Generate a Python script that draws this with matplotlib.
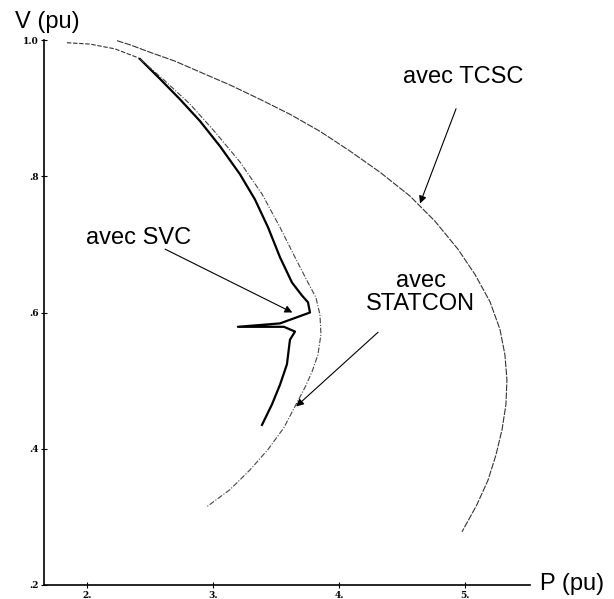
import matplotlib
matplotlib.use("Agg")
import matplotlib.pyplot as plt

# Shared base section (before the curves diverge)
base_p = [1.841, 2.024, 2.222, 2.405, 2.421]
base_v = [0.996, 0.994, 0.987, 0.974, 0.972]

# avec SVC
svc_p = [2.421, 2.579, 2.738, 2.897, 3.056, 3.214, 3.333, 3.437, 3.532, 3.627, 3.706, 3.754, 3.770,
         3.532, 3.198, 3.563, 3.651, 3.611, 3.587, 3.532, 3.468, 3.389]
svc_v = [0.972, 0.943, 0.913, 0.881, 0.844, 0.803, 0.766, 0.725, 0.681, 0.644, 0.625, 0.615, 0.600,
         0.584, 0.579, 0.579, 0.572, 0.560, 0.524, 0.494, 0.465, 0.435]

# avec STATCON
stat_p = [2.421, 2.619, 2.817, 3.016, 3.214, 3.389, 3.532, 3.651, 3.754, 3.817, 3.849, 3.857, 3.833,
          3.786, 3.730, 3.659, 3.563, 3.437, 3.294, 3.135, 2.952]
stat_v = [0.972, 0.940, 0.906, 0.865, 0.821, 0.774, 0.725, 0.681, 0.644, 0.622, 0.597, 0.568, 0.538,
          0.513, 0.490, 0.465, 0.431, 0.399, 0.369, 0.340, 0.315]

# avec TCSC
tcsc_p = [2.238, 2.341, 2.500, 2.698, 2.897, 3.135, 3.373, 3.611, 3.849, 4.087, 4.325, 4.563, 4.762,
          4.944, 5.079, 5.198, 5.278, 5.317, 5.333, 5.325, 5.294, 5.246, 5.183, 5.095, 4.976]
tcsc_v = [0.999, 0.993, 0.982, 0.969, 0.953, 0.934, 0.913, 0.891, 0.866, 0.837, 0.806, 0.771, 0.734,
          0.693, 0.656, 0.616, 0.575, 0.538, 0.501, 0.465, 0.428, 0.391, 0.354, 0.318, 0.278]

xticks = [2, 3, 4, 5]
xticklabels = ["2.", "3.", "4.", "5."]
yticks = [0.2, 0.4, 0.6, 0.8, 1.0]
yticklabels = [".2", ".4", ".6", ".8", "1.0"]

fig = plt.figure(figsize=(6.14, 5.99), dpi=100)
ax = fig.add_axes([44/614, 1-585/599, (530-44)/614, (585-40)/599])
ax.set_xlim(1.659, 5.516)
ax.set_ylim(0.2, 1.0)

ax.plot(base_p, base_v, color="#333333", lw=0.8, ls=(0, (4, 1.5)))
ax.plot(svc_p, svc_v, color="black", lw=1.6, solid_joinstyle="round")
ax.plot(stat_p, stat_v, color="#444444", lw=0.8, ls=(0, (5, 1.5, 1, 1.5)))
ax.plot(tcsc_p, tcsc_v, color="#333333", lw=0.8, ls=(0, (6, 1.2)))

for s in ["top", "right"]:
    ax.spines[s].set_visible(False)
for s in ["left", "bottom"]:
    ax.spines[s].set_linewidth(1.2)

ax.set_xticks(xticks)
ax.set_xticklabels(xticklabels, fontsize=6.5, family="DejaVu Serif", fontweight="bold")
ax.set_yticks(yticks)
ax.set_yticklabels(yticklabels, fontsize=6.5, family="DejaVu Serif", fontweight="bold")
ax.tick_params(axis="both", direction="inout", length=4, width=0.8, pad=2)

font = dict(family="Liberation Sans", fontsize=17)
ax.text(4.984, 0.945, "avec TCSC", ha="center", va="center", **font)
ax.text(2.41, 0.710, "avec SVC", ha="center", va="center", **font)
ax.text(4.65, 0.629, "avec\nSTATCON", ha="center", va="center", linespacing=1.05, **font)

ap = dict(arrowstyle="-|>", lw=0.8, color="black", mutation_scale=11, shrinkA=0, shrinkB=0)
ax.annotate("", xy=(4.643, 0.760), xytext=(4.929, 0.899), arrowprops=ap)
ax.annotate("", xy=(3.63, 0.600), xytext=(2.62, 0.693), arrowprops=ap)
ax.annotate("", xy=(3.66, 0.462), xytext=(4.31, 0.571), arrowprops=ap)

fig.text(15/614, 1-22/599, "V (pu)", ha="left", va="center", family="Liberation Sans", fontsize=17)
fig.text(540/614, 1-584/599, "P (pu)", ha="left", va="center", family="Liberation Sans", fontsize=17)

fig.savefig("out.png", dpi=100)
